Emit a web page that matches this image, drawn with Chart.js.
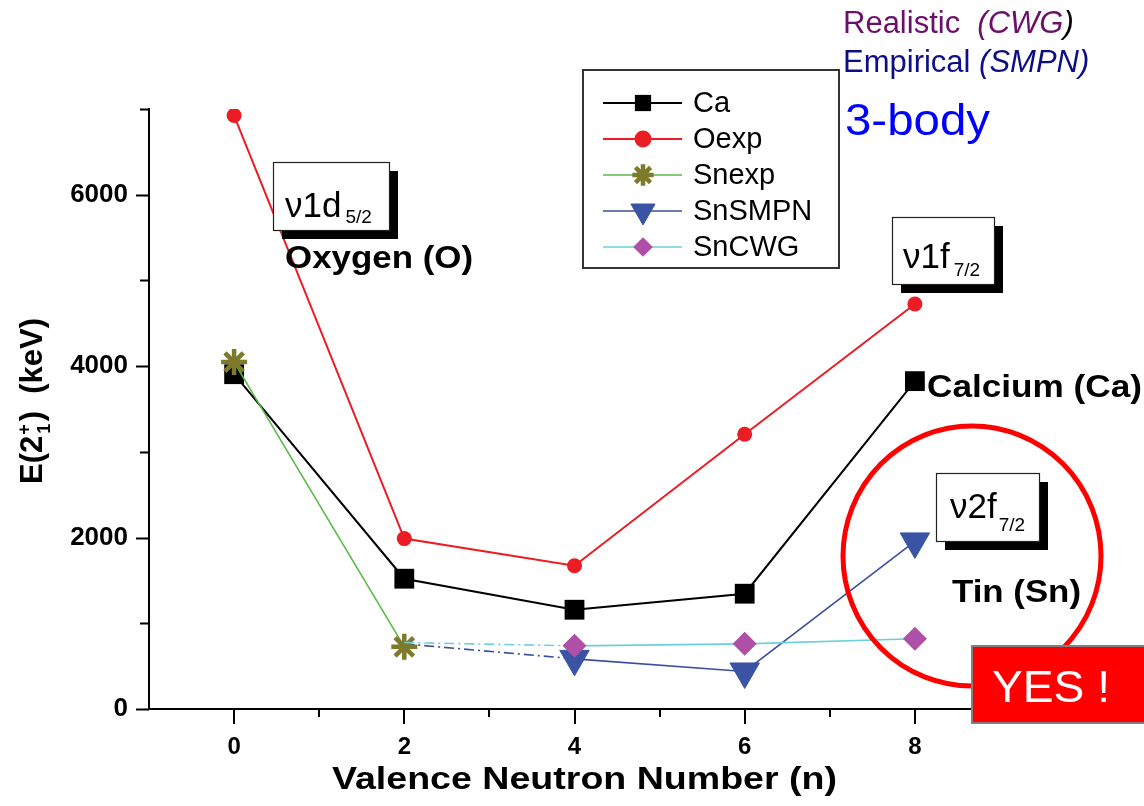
<!DOCTYPE html>
<html>
<head>
<meta charset="utf-8">
<script src="https://cdn.jsdelivr.net/npm/chart.js@4.4.1/dist/chart.umd.min.js"></script>
<style>
  html, body { margin: 0; padding: 0; background: #fff; }
  #c { display: block; }
</style>
</head>
<body>
<canvas id="c" width="1144" height="806"></canvas>
<script>
// E(2+1) systematics vs valence neutron number
const neutronN   = [0, 2, 4, 6, 8];
const caE2       = [3906, 1520, 1158, 1345, 3825];
const oxygenE2   = [6924, 1988, 1672, 3205, 4725];
const snExpN     = [0, 2];
const snExpE2    = [4047, 725];
const snTheoryN  = [2, 4, 6, 8];
const snSmpnE2   = [760, 585, 438, 1955];
const snCwgE2    = [775, 737, 760, 819];
const seriesLabels = ['Ca', 'Oexp', 'Snexp', 'SnSMPN', 'SnCWG'];
const yTickVals  = [0, 1000, 2000, 3000, 4000, 5000, 6000, 7000];
const xTickVals  = [0, 1, 2, 3, 4, 5, 6, 7, 8];

const FONT = '"Liberation Sans", Arial, Helvetica, sans-serif';
const pts = (xs, ys) => xs.map((x, i) => ({ x, y: ys[i] }));
const DASHDOT = [10, 4, 2, 4];

// helpers
function fitText(ctx, text, x, y, font, color, w) {
    ctx.save();
    ctx.font = font;
    ctx.fillStyle = color;
    ctx.textBaseline = 'alphabetic';
    const m = ctx.measureText(text).width;
    ctx.translate(x, y);
    if (w) ctx.scale(w / m, 1);
    ctx.fillText(text, 0, 0);
    ctx.restore();
}

function shadowBox(ctx, x, y, w, h) {
    ctx.fillStyle = '#000';
    ctx.fillRect(x + 9, y + 9, w, h);
    ctx.fillStyle = '#fff';
    ctx.fillRect(x, y, w, h);
    ctx.strokeStyle = '#222';
    ctx.lineWidth = 1.2;
    ctx.strokeRect(x + 0.5, y + 0.5, w, h);
}

function orbital(ctx, x, y, main, sub, subDx, subDy) {
    ctx.fillStyle = '#000';
    ctx.textBaseline = 'alphabetic';
    ctx.font = '35px ' + FONT;
    ctx.fillText(main, x, y);
    const mw = ctx.measureText(main).width;
    ctx.font = '19px ' + FONT;
    ctx.fillText(sub, x + mw + subDx, y + subDy);
}

// axis ticks (major long, minor short) drawn off the chart scales
const tickPlugin = {
    id: 'axisTicks',
    afterDraw(chart) {
        const { ctx, scales: { x, y } } = chart;
        ctx.save();
        ctx.strokeStyle = '#000';
        ctx.lineWidth = 2;
        ctx.beginPath();
        yTickVals.forEach(v => {
            const py = Math.round(y.getPixelForValue(v)) + 0.5;
            const len = (v % 2000 === 0) ? 13 : 9;
            ctx.moveTo(x.left - len, py);
            ctx.lineTo(x.left, py);
        });
        xTickVals.forEach(v => {
            const px = Math.round(x.getPixelForValue(v));
            const len = (v % 2 === 0) ? 15 : 8;
            ctx.moveTo(px, y.bottom);
            ctx.lineTo(px, y.bottom + len);
        });
        ctx.stroke();
        ctx.restore();
    }
};

// legend box + annotations
const annoPlugin = {
    id: 'annotations',
    afterDatasetsDraw(chart) {
        const ctx = chart.ctx;
        ctx.save();

        // legend
        ctx.fillStyle = '#fff';
        ctx.fillRect(583, 70, 256, 198);
        ctx.strokeStyle = '#333';
        ctx.lineWidth = 2;
        ctx.strokeRect(583, 70, 256, 198);
        const rows = [103, 139, 175, 211, 247];
        chart.data.datasets.forEach((ds, i) => {
            const yy = rows[i];
            ctx.strokeStyle = ds.borderColor;
            ctx.lineWidth = ds.borderWidth;
            ctx.setLineDash([]);
            ctx.beginPath();
            ctx.moveTo(603, yy);
            ctx.lineTo(682, yy);
            ctx.stroke();
            const r = Array.isArray(ds.pointRadius) ? Math.max(...ds.pointRadius) : ds.pointRadius;
            ctx.fillStyle = ds.pointBackgroundColor;
            ctx.strokeStyle = ds.pointBorderColor;
            ctx.lineWidth = ds.pointBorderWidth;
            Chart.helpers.drawPoint(ctx, {
                pointStyle: ds.pointStyle,
                rotation: ds.pointRotation || 0,
                radius: Math.max(8.5, r * 0.82),
                borderWidth: ds.pointBorderWidth
            }, 643, yy);
            ctx.fillStyle = '#000';
            ctx.font = '29px ' + FONT;
            ctx.textBaseline = 'middle';
            ctx.fillText(ds.label, 693, yy + 1);
        });

        // orbital boxes
        shadowBox(ctx, 273, 162, 116, 68);
        orbital(ctx, 285, 217, 'ν1d', '5/2', 4, 6);
        shadowBox(ctx, 892, 217, 102, 67);
        orbital(ctx, 903, 268, 'ν1f', '7/2', 4, 8);
        shadowBox(ctx, 936, 473, 103, 68);
        orbital(ctx, 950, 518, 'ν2f', '7/2', 2, 13);

        // nucleus names
        fitText(ctx, 'Oxygen (O)', 285, 268, 'bold 32px ' + FONT, '#000', 188);
        fitText(ctx, 'Calcium (Ca)', 927, 397, 'bold 31px ' + FONT, '#000', 215);
        fitText(ctx, 'Tin (Sn)', 952, 602, 'bold 31px ' + FONT, '#000', 129);

        // red circle
        ctx.strokeStyle = '#ff0000';
        ctx.lineWidth = 5;
        ctx.beginPath();
        ctx.ellipse(972, 556, 129, 130, 0, 0, Math.PI * 2);
        ctx.stroke();

        // YES box
        ctx.fillStyle = '#ff0000';
        ctx.fillRect(972, 646, 180, 77);
        ctx.strokeStyle = '#808080';
        ctx.lineWidth = 2;
        ctx.strokeRect(972, 646, 180, 77);
        fitText(ctx, 'YES !', 992, 702, '44px ' + FONT, '#fff', 118);

        // top-right notes
        ctx.textBaseline = 'alphabetic';
        let xx = 843;
        ctx.font = '31px ' + FONT;
        ctx.fillStyle = '#6b0f6b';
        ctx.fillText('Realistic  ', xx, 33);
        xx += ctx.measureText('Realistic  ').width;
        ctx.font = 'italic 31px ' + FONT;
        ctx.fillText('(CWG', xx, 33);
        xx += ctx.measureText('(CWG').width;
        ctx.fillStyle = '#000';
        ctx.fillText(')', xx, 33);

        xx = 843;
        ctx.font = '31px ' + FONT;
        ctx.fillStyle = '#0d0d85';
        ctx.fillText('Empirical ', xx, 72);
        xx += ctx.measureText('Empirical ').width;
        ctx.font = 'italic 31px ' + FONT;
        ctx.fillText('(SMPN)', xx, 72);

        fitText(ctx, '3-body', 845, 135, '45px ' + FONT, '#0000ff', 145);

        // axis titles
        fitText(ctx, 'Valence Neutron Number (n)', 332, 789, 'bold 31px ' + FONT, '#000', 505);

        ctx.save();
        ctx.translate(42, 484);
        ctx.rotate(-Math.PI / 2);
        ctx.fillStyle = '#000';
        let tx = 0;
        ctx.font = 'bold 31px ' + FONT;
        ctx.fillText('E(2', tx, 0);
        tx += ctx.measureText('E(2').width;
        ctx.font = 'bold 18px ' + FONT;
        ctx.fillText('+', tx + 1, -12);
        ctx.fillText('1', tx + 2, 8);
        tx += ctx.measureText('+').width + 4;
        ctx.font = 'bold 31px ' + FONT;
        ctx.fillText(')  (keV)', tx, 0);
        ctx.restore();

        ctx.restore();
    }
};

const firstSegDash = ctx => ctx.p0DataIndex === 0 ? DASHDOT : undefined;

new Chart(document.getElementById('c'), {
    type: 'line',
    data: {
        datasets: [
            {
                label: seriesLabels[0],
                data: pts(neutronN, caE2),
                borderColor: '#000',
                borderWidth: 2,
                pointStyle: 'rect',
                pointRadius: 14,
                pointBackgroundColor: '#000',
                pointBorderColor: '#000',
                pointBorderWidth: 0,
                order: 5
            },
            {
                label: seriesLabels[1],
                data: pts(neutronN, oxygenE2),
                borderColor: '#ec1c24',
                borderWidth: 2,
                pointStyle: 'circle',
                pointRadius: 7.5,
                pointBackgroundColor: '#ec1c24',
                pointBorderColor: '#ec1c24',
                pointBorderWidth: 0,
                order: 4
            },
            {
                label: seriesLabels[2],
                data: pts(snExpN, snExpE2),
                borderColor: '#5cb84a',
                borderWidth: 1.6,
                pointStyle: 'star',
                pointRadius: 13,
                pointBackgroundColor: '#7d7a2c',
                pointBorderColor: '#7d7a2c',
                pointBorderWidth: 4.5,
                order: 2
            },
            {
                label: seriesLabels[3],
                data: pts(snTheoryN, snSmpnE2),
                borderColor: '#3b4f9e',
                borderWidth: 1.6,
                segment: { borderDash: firstSegDash },
                pointStyle: 'triangle',
                pointRotation: 180,
                pointRadius: [0, 17, 17, 17],
                pointBackgroundColor: '#3b53a4',
                pointBorderColor: '#3b53a4',
                pointBorderWidth: 1,
                order: 3
            },
            {
                label: seriesLabels[4],
                data: pts(snTheoryN, snCwgE2),
                borderColor: '#6ccfdc',
                borderWidth: 1.6,
                segment: { borderDash: firstSegDash },
                pointStyle: 'rectRot',
                pointRadius: [0, 12, 12, 12],
                pointBackgroundColor: '#b04fa8',
                pointBorderColor: '#b04fa8',
                pointBorderWidth: 0,
                order: 1
            }
        ]
    },
    options: {
        responsive: false,
        devicePixelRatio: 1,
        animation: false,
        events: [],
        layout: { padding: { left: 0, right: 144, top: 109, bottom: 0 } },
        plugins: { legend: { display: false }, tooltip: { enabled: false } },
        elements: { line: { tension: 0 } },
        scales: {
            x: {
                type: 'linear',
                min: -1, max: 9,
                afterFit: s => { s.height = 97; },
                grid: { drawOnChartArea: false, drawTicks: false },
                border: { color: '#000', width: 2 },
                ticks: {
                    stepSize: 1,
                    padding: 24,
                    color: '#000',
                    font: { family: FONT, size: 24, weight: 'bold' },
                    callback: v => (v >= 0 && v <= 8 && v % 2 === 0) ? String(v) : ''
                }
            },
            y: {
                min: 0, max: 7000,
                afterFit: s => { s.width = 149; },
                grid: { drawOnChartArea: false, drawTicks: false },
                border: { color: '#000', width: 2 },
                ticks: {
                    stepSize: 1000,
                    padding: 21,
                    color: '#000',
                    font: { family: FONT, size: 26, weight: 'bold' },
                    callback: v => (v % 2000 === 0 && v < 7000) ? String(v) : ''
                }
            }
        }
    },
    plugins: [tickPlugin, annoPlugin]
});
</script>
</body>
</html>
